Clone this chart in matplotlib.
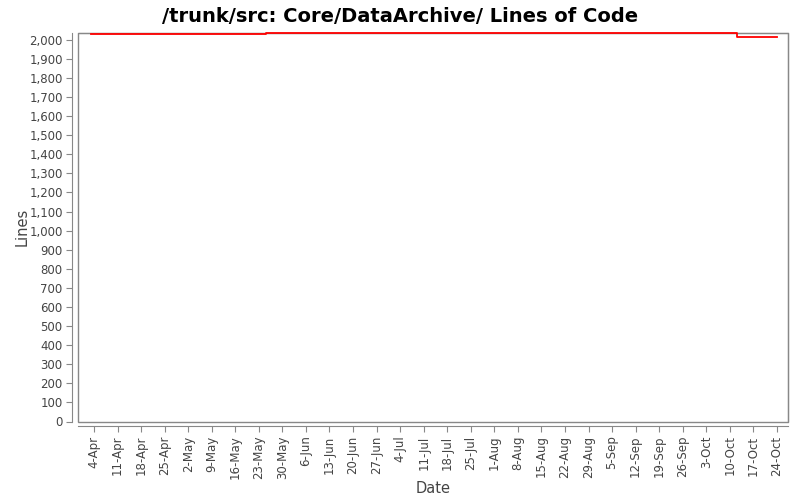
import numpy as np
import matplotlib
matplotlib.use("Agg")
import matplotlib.pyplot as plt
import matplotlib.dates as mdates
from matplotlib.ticker import FuncFormatter, MultipleLocator
from matplotlib.patches import Rectangle
import datetime as dt

# data
dates = ["2011-04-03", "2011-05-25", "2011-10-12", "2011-10-24"]
lines = [2028, 2034, 2012, 2012]

tick_start = "2011-04-04"
n_ticks = 30

d = [dt.datetime.strptime(s, "%Y-%m-%d") for s in dates]
t0 = dt.datetime.strptime(tick_start, "%Y-%m-%d")
ticks = [t0 + dt.timedelta(days=7 * i) for i in range(n_ticks)]

fig = plt.figure(figsize=(8, 5), dpi=100)
ax = fig.add_axes([0.0975, 0.157, 0.8875, 0.777])

ax.step(d, lines, where="post", color="#ff0000", lw=1.3, clip_on=False, zorder=5)

# plot box plus offset axis lines
for s in ax.spines.values():
    s.set_color("#888888")
ax.spines["left"].set_position(("outward", 4))
ax.spines["bottom"].set_position(("outward", 3))
ax.add_patch(Rectangle((0, 0), 1, 1, transform=ax.transAxes, fill=False,
                       edgecolor="#888888", lw=1, zorder=1, clip_on=False))

ax.set_xlim(t0 - dt.timedelta(days=4.76), ticks[-1] + dt.timedelta(days=3.3))
ax.set_ylim(0, 2035)
ax.set_xticks(ticks)
ax.xaxis.set_major_formatter(FuncFormatter(
    lambda x, p: "%d-%s" % (mdates.num2date(x).day, mdates.num2date(x).strftime("%b"))))
ax.yaxis.set_major_locator(MultipleLocator(100))
ax.yaxis.set_major_formatter(FuncFormatter(lambda y, p: "{:,.0f}".format(y)))
ax.tick_params(colors="#888888", labelcolor="#444444", labelsize=8.5, length=4, pad=3)
ax.tick_params(axis="x", labelrotation=90)

ax.set_xlabel("Date", fontsize=10.5, color="#444444", labelpad=1)
ax.set_ylabel("Lines", fontsize=10.5, color="#444444", labelpad=0)
fig.suptitle("/trunk/src: Core/DataArchive/ Lines of Code", fontsize=14,
             fontweight="bold", y=0.985)

fig.savefig("out.png")
